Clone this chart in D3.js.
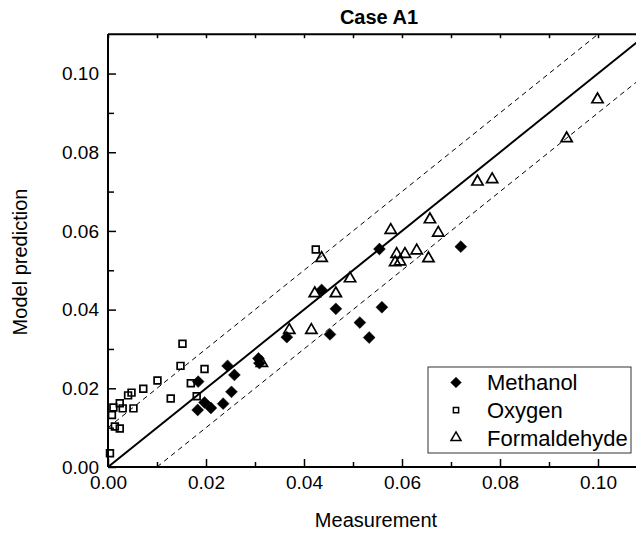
<!DOCTYPE html>
<html>
<head>
<meta charset="utf-8">
<script src="https://cdn.jsdelivr.net/npm/d3@7"></script>
<style>
    body { margin: 0; background: #fff; }
    text { font-family: "Liberation Sans", Arial, sans-serif; fill: #000; }
</style>
</head>
<body>
<div id="container"><svg></svg></div>
<script>
let width = 636;
let height = 535;
let padding = {'left': 108, 'top': 34.2, 'bottom': 467, 'right': 647};

let methanol = [
    [0.0183, 0.0145], [0.0197, 0.0164], [0.0210, 0.0150], [0.0235, 0.0161],
    [0.0252, 0.0191], [0.0184, 0.0217], [0.0244, 0.0257], [0.0258, 0.0234],
    [0.0307, 0.0276], [0.0309, 0.0264], [0.0365, 0.0330], [0.0436, 0.0450],
    [0.0465, 0.0402], [0.0453, 0.0337], [0.0514, 0.0367], [0.0533, 0.0329],
    [0.0554, 0.0554], [0.0559, 0.0406], [0.0720, 0.0560]
];
let oxygen = [
    [0.0004, 0.0035], [0.0008, 0.0132], [0.0011, 0.0151], [0.0014, 0.0103],
    [0.0024, 0.0098], [0.0024, 0.0162], [0.0030, 0.0149], [0.0041, 0.0182],
    [0.0048, 0.0189], [0.0052, 0.0149], [0.0072, 0.0199], [0.0101, 0.0220],
    [0.0128, 0.0174], [0.0148, 0.0257], [0.0152, 0.0313], [0.0169, 0.0213],
    [0.0181, 0.0180], [0.0197, 0.0249], [0.0424, 0.0553]
];
let formaldehyde = [
    [0.0314, 0.0264], [0.0370, 0.0348], [0.0415, 0.0348], [0.0422, 0.0441],
    [0.0436, 0.0531], [0.0465, 0.0441], [0.0494, 0.0479], [0.0577, 0.0602],
    [0.0589, 0.0541], [0.0606, 0.0541], [0.0630, 0.0550], [0.0586, 0.0520],
    [0.0596, 0.0522], [0.0654, 0.0530], [0.0657, 0.0629], [0.0674, 0.0595],
    [0.0754, 0.0725], [0.0784, 0.0731], [0.0936, 0.0835], [0.0999, 0.0934]
];
let seriesNames = ['Methanol', 'Oxygen', 'Formaldehyde'];
let tickLabels = ['0.00', '0.02', '0.04', '0.06', '0.08', '0.10'];
let majorTicks = [0, 0.02, 0.04, 0.06, 0.08, 0.10];
let minorTicks = [0.01, 0.03, 0.05, 0.07, 0.09];
let offset = 0.01;
let axisMax = 0.11;

let svg, xScale, yScale;

function symbolPath(kind, scale = 1) {
    if (kind === 'Methanol') return d3.symbol().type(d3.symbolDiamond2).size(90 * scale)();
    if (kind === 'Oxygen') return d3.symbol().type(d3.symbolSquare2).size(58 * scale)();
    return d3.symbol().type(d3.symbolTriangle2).size(90 * scale)();
}

function draw() {
    xScale = d3.scaleLinear().domain([0, axisMax]).range([padding.left, padding.right]);
    yScale = d3.scaleLinear().domain([0, axisMax]).range([padding.bottom, padding.top]);

    svg.append('clipPath').attr('id', 'plot-clip')
        .append('rect')
        .attr('x', xScale(0)).attr('y', yScale(axisMax))
        .attr('width', xScale(axisMax) - xScale(0))
        .attr('height', yScale(0) - yScale(axisMax));

    // 1:1 line and +-0.01 band
    let refLines = [
        {'d': 0, 'dash': null, 'w': 2},
        {'d': offset, 'dash': '5,4', 'w': 1},
        {'d': -offset, 'dash': '5,4', 'w': 1}
    ];
    let line = d3.line().x(p => xScale(p[0])).y(p => yScale(p[1]));
    svg.append('g').attr('clip-path', 'url(#plot-clip)')
        .selectAll('path')
        .data(refLines)
        .join('path')
        .attr('d', r => line([[0, r.d], [axisMax, axisMax + r.d]]))
        .attr('fill', 'none')
        .attr('stroke', '#000')
        .attr('stroke-width', r => r.w)
        .attr('stroke-dasharray', r => r.dash);

    // axes
    let bottom = svg.append('g').attr('transform', `translate(0,${yScale(0)})`)
        .call(d3.axisBottom(xScale).tickValues(majorTicks).tickSize(-8)
            .tickFormat((d, i) => tickLabels[i]));
    bottom.append('g').call(d3.axisBottom(xScale).tickValues(minorTicks).tickSize(-5).tickFormat(''));
    let left = svg.append('g').attr('transform', `translate(${xScale(0)},0)`)
        .call(d3.axisLeft(yScale).tickValues(majorTicks).tickSize(-8)
            .tickFormat((d, i) => tickLabels[i]));
    left.append('g').call(d3.axisLeft(yScale).tickValues(minorTicks).tickSize(-6).tickFormat(''));
    let top = svg.append('g').attr('transform', `translate(0,${yScale(axisMax)})`)
        .call(d3.axisTop(xScale).tickValues(majorTicks.concat(minorTicks)).tickSize(-4).tickFormat(''));
    let right = svg.append('g').attr('transform', `translate(${xScale(axisMax)},0)`)
        .call(d3.axisRight(yScale).tickValues(majorTicks.concat(minorTicks)).tickSize(-4).tickFormat(''));

    [bottom, left, top, right].forEach(g => {
        g.selectAll('.domain').attr('stroke', '#000').attr('stroke-width', 2)
            .attr('d', g === bottom || g === top
                ? `M${xScale(0)},0H${xScale(axisMax)}`
                : `M0,${yScale(0)}V${yScale(axisMax)}`);
        g.selectAll('.tick line').attr('stroke', '#000').attr('stroke-width', 1.5);
        g.selectAll('.tick text').attr('font-size', 19).attr('fill', '#000')
            .style('font-family', '"Liberation Sans", Arial, sans-serif');
    });
    bottom.selectAll('.tick text').attr('dy', '0.71em').attr('y', 9);
    left.selectAll('.tick text').attr('x', -9);

    // points
    let series = [
        {'name': 'Methanol', 'pts': methanol, 'fill': '#000'},
        {'name': 'Oxygen', 'pts': oxygen, 'fill': 'none'},
        {'name': 'Formaldehyde', 'pts': formaldehyde, 'fill': 'none'}
    ];
    series.forEach(s => {
        svg.append('g')
            .selectAll('path')
            .data(s.pts)
            .join('path')
            .attr('transform', p => `translate(${xScale(p[0])},${yScale(p[1])})`)
            .attr('d', symbolPath(s.name))
            .attr('fill', s.fill)
            .attr('stroke', '#000')
            .attr('stroke-width', s.name === 'Methanol' ? 0.5 : 1.7);
    });

    // legend
    let legend = svg.append('g').attr('transform', 'translate(428,367)');
    legend.append('rect')
        .attr('width', 203).attr('height', 86)
        .attr('fill', '#fff').attr('stroke', '#333').attr('stroke-width', 1);
    let item = legend.selectAll('g.item')
        .data(series)
        .join('g')
        .attr('class', 'item')
        .attr('transform', (s, i) => `translate(0,${15.5 + i * 27.6})`);
    item.append('path')
        .attr('transform', 'translate(28,0)')
        .attr('d', s => symbolPath(s.name, s.name === 'Oxygen' ? 0.6 : 0.8))
        .attr('fill', s => s.fill)
        .attr('stroke', '#000')
        .attr('stroke-width', s => s.name === 'Methanol' ? 0.5 : 1.5);
    item.append('text')
        .attr('x', 59).attr('dy', '0.36em')
        .attr('font-size', 22)
        .text(s => s.name);

    // titles
    svg.append('text')
        .attr('x', 379).attr('y', 24)
        .attr('text-anchor', 'middle')
        .attr('font-size', 20).attr('font-weight', 'bold')
        .text('Case A1');
    svg.append('text')
        .attr('x', 376).attr('y', 527)
        .attr('text-anchor', 'middle')
        .attr('font-size', 20)
        .text('Measurement');
    svg.append('text')
        .attr('transform', 'translate(27,262) rotate(-90)')
        .attr('text-anchor', 'middle')
        .attr('font-size', 20)
        .text('Model prediction');
}

function main() {
    svg = d3.select('#container')
        .select('svg')
        .attr('width', width)
        .attr('height', height);
    draw();
}

main()
</script>
</body>
</html>
